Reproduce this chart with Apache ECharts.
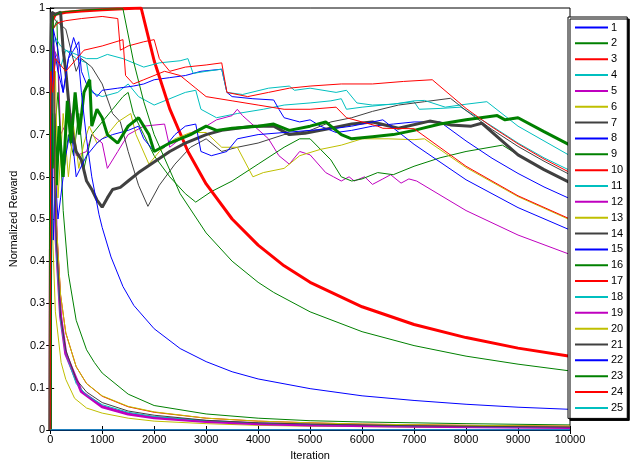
<!DOCTYPE html>
<html>
<head>
<meta charset="utf-8">
<script src="https://cdn.jsdelivr.net/npm/echarts@6/dist/echarts.min.js"></script>
<style>
html, body { margin: 0; padding: 0; background: #fff; }
#main { width: 635px; height: 466px; }
</style>
</head>
<body>
<div id="main"></div>
<script>
var xTicks = [0, 1000, 2000, 3000, 4000, 5000, 6000, 7000, 8000, 9000, 10000];
var yTicks = [0, 0.1, 0.2, 0.3, 0.4, 0.5, 0.6, 0.7, 0.8, 0.9, 1];
var names = ['1','2','3','4','5','6','7','8','9','10','11','12','13','14','15','16','17','18','19','20','21','22','23','24','25'];

// [iteration, normalized reward]
var s1 = [[0,0],[10000,0]];
var s2 = [[0,0],[20,0.6],[60,0.95],[130,0.97],[180,0.72],[250,0.52],[350,0.37],[500,0.26],[700,0.19],[850,0.16],[1000,0.135],[1500,0.085],[2000,0.058],[3000,0.038],[4000,0.028],[5000,0.022],[6000,0.019],[8000,0.015],[10000,0.012]];
var s3 = [[0,0],[5,0.3],[15,0.9],[50,0.98],[80,0.7],[115,0.5],[200,0.32],[300,0.23],[500,0.15],[700,0.11],[1000,0.08],[1500,0.055],[2000,0.042],[3000,0.028],[4000,0.021],[5000,0.017],[6000,0.014],[8000,0.011],[10000,0.009]];
var s4 = [[0,0],[20,0.7],[60,0.85],[120,0.88],[200,0.86],[300,0.9],[500,0.88],[700,0.87],[800,0.8],[1000,0.79],[1300,0.8],[1500,0.82],[1700,0.79],[2000,0.77],[2300,0.785],[2600,0.8],[2800,0.805],[2900,0.76],[3200,0.74],[3600,0.75],[4100,0.76],[4300,0.765],[4500,0.77],[5000,0.775],[5400,0.78],[5600,0.785],[5700,0.76],[6000,0.765],[6400,0.77],[6800,0.775],[7000,0.778],[7100,0.76],[7500,0.762],[7900,0.765],[8500,0.72],[9000,0.68],[9500,0.645],[10000,0.615]];
var s5 = [[0,0],[10,0.7],[50,0.85],[80,0.9],[150,0.88],[200,0.7],[400,0.75],[500,0.65],[700,0.66],[800,0.7],[1000,0.68],[1100,0.62],[1300,0.66],[1500,0.7],[1800,0.72],[2200,0.725],[2300,0.67],[2500,0.69],[2800,0.71],[3000,0.72],[3200,0.735],[3500,0.745],[3600,0.76],[3700,0.745],[4200,0.69],[4400,0.65],[4600,0.63],[4800,0.66],[5000,0.652],[5300,0.61],[5450,0.6],[5600,0.59],[5750,0.6],[5850,0.59],[6050,0.6],[6200,0.582],[6400,0.595],[6550,0.605],[6750,0.585],[6900,0.595],[7050,0.59],[8000,0.52],[9000,0.462],[10000,0.416]];
var s6 = [[0,0],[8,0.95],[20,0.8],[50,0.45],[100,0.28],[210,0.16],[300,0.12],[470,0.075],[700,0.052],[1000,0.04],[1500,0.028],[2000,0.021],[3000,0.015],[4000,0.011],[5000,0.009],[7000,0.007],[10000,0.005]];
var s7 = [[0,0],[10,0.85],[40,0.99],[100,0.97],[200,0.96],[300,0.95],[400,0.9],[500,0.85],[600,0.88],[800,0.86],[1000,0.82],[1200,0.75],[1350,0.73],[1500,0.66],[1700,0.58],[1880,0.53],[2100,0.58],[2400,0.63],[2700,0.67],[3000,0.69],[3300,0.66],[3600,0.67],[4000,0.68],[4500,0.7],[5000,0.71],[5400,0.73],[5800,0.74],[6200,0.755],[6700,0.77],[7200,0.778],[7700,0.786],[8000,0.757],[8500,0.712],[9000,0.672],[9500,0.637],[10000,0.605]];
var s8 = [[0,0],[10,0.7],[30,0.95],[80,0.9],[150,0.85],[250,0.8],[350,0.88],[450,0.9],[550,0.92],[600,0.85],[700,0.82],[900,0.79],[1000,0.805],[1300,0.81],[1600,0.815],[1800,0.82],[2000,0.83],[2300,0.835],[2600,0.84],[2900,0.85],[3300,0.855],[3400,0.8],[3500,0.79],[3900,0.785],[4300,0.782],[4400,0.76],[4500,0.74],[4800,0.73],[5000,0.735],[5200,0.72],[5500,0.705],[5800,0.71],[6200,0.72],[6600,0.725],[7000,0.73],[7500,0.73],[8000,0.685],[8500,0.644],[9000,0.608],[9500,0.576],[10000,0.548]];
var s9 = [[0,0],[10,0.6],[40,0.9],[80,0.7],[150,0.8],[250,0.6],[350,0.7],[450,0.65],[550,0.75],[650,0.62],[800,0.7],[1000,0.73],[1200,0.76],[1400,0.79],[1500,0.8],[1600,0.75],[1800,0.7],[2000,0.65],[2300,0.6],[2600,0.56],[2800,0.54],[3100,0.565],[3500,0.59],[4000,0.63],[4500,0.67],[4800,0.69],[5000,0.69],[5400,0.64],[5600,0.6],[5800,0.59],[6000,0.595],[6300,0.61],[6600,0.605],[7000,0.625],[7500,0.645],[8000,0.66],[8700,0.675],[9000,0.652],[9500,0.618],[10000,0.587]];
var s10 = [[0,0],[10,0.8],[40,0.97],[100,0.985],[300,0.99],[600,0.993],[1000,0.996],[1400,0.998],[1750,1.0],[2000,0.875],[2300,0.761],[2650,0.66],[3000,0.583],[3500,0.5],[4000,0.438],[4500,0.389],[5000,0.35],[6000,0.292],[7000,0.25],[8000,0.219],[9000,0.194],[10000,0.175]];
var s11 = [[0,0],[10,0.8],[40,0.9],[100,0.93],[200,0.91],[300,0.9],[500,0.89],[700,0.88],[900,0.88],[1100,0.89],[1400,0.88],[1800,0.86],[2100,0.87],[2500,0.875],[2650,0.88],[2750,0.845],[3000,0.85],[3300,0.855],[3400,0.8],[3700,0.795],[4200,0.81],[4600,0.815],[4700,0.805],[5000,0.81],[5500,0.8],[5700,0.805],[5900,0.775],[6200,0.77],[6600,0.772],[7000,0.78],[7200,0.781],[7600,0.765],[8000,0.772],[8400,0.778],[9000,0.72],[9500,0.685],[10000,0.65]];
var s12 = [[0,0],[10,0.8],[30,0.95],[60,0.9],[80,0.7],[115,0.45],[200,0.27],[300,0.18],[600,0.091],[1000,0.055],[1500,0.038],[2000,0.029],[3000,0.02],[4000,0.015],[5000,0.012],[7000,0.009],[10000,0.006]];
var s13 = [[0,0],[10,0.6],[30,0.95],[60,0.7],[100,0.85],[150,0.55],[250,0.75],[350,0.6],[450,0.72],[550,0.62],[650,0.68],[750,0.72],[900,0.68],[1100,0.7],[1300,0.73],[1550,0.75],[1650,0.7],[1900,0.63],[2100,0.66],[2400,0.69],[2700,0.705],[3000,0.705],[3300,0.67],[3600,0.67],[3900,0.6],[4100,0.61],[4500,0.62],[4800,0.65],[5200,0.665],[5600,0.675],[6000,0.69],[6500,0.69],[7000,0.688],[7200,0.69],[8000,0.622],[9000,0.553],[10000,0.498]];
var s14 = [[0,0],[10,0.9],[30,0.99],[100,0.985],[200,0.99],[250,0.9],[300,0.85],[400,0.72],[500,0.66],[600,0.64],[700,0.59],[800,0.57],[900,0.545],[1000,0.528],[1100,0.55],[1200,0.57],[1350,0.575],[1500,0.59],[1700,0.61],[2000,0.635],[2300,0.66],[2600,0.68],[2800,0.69],[3000,0.7],[3300,0.71],[3600,0.715],[3900,0.72],[4300,0.72],[4600,0.7],[4900,0.703],[5400,0.715],[5800,0.725],[6200,0.73],[6700,0.715],[7300,0.732],[7700,0.723],[8100,0.72],[8300,0.727],[9000,0.652],[9500,0.617],[10000,0.586]];
var s15 = [[0,0],[30,0.7],[60,0.45],[100,0.6],[150,0.5],[200,0.55],[300,0.65],[400,0.72],[500,0.6],[700,0.65],[900,0.68],[1000,0.69],[1200,0.7],[1500,0.71],[1700,0.72],[1800,0.69],[2000,0.66],[2200,0.67],[2400,0.7],[2600,0.72],[2800,0.725],[2900,0.66],[3100,0.65],[3400,0.66],[3600,0.69],[4000,0.7],[4500,0.705],[5000,0.71],[5500,0.715],[5800,0.72],[6000,0.725],[6400,0.735],[7000,0.677],[8000,0.593],[9000,0.527],[10000,0.474]];
var s16 = [[0,0],[15,0.8],[40,0.62],[70,0.75],[120,0.58],[170,0.72],[250,0.6],[330,0.78],[400,0.68],[480,0.8],[560,0.7],[650,0.8],[760,0.83],[800,0.72],[900,0.76],[1000,0.74],[1100,0.7],[1300,0.68],[1500,0.72],[1700,0.74],[1900,0.7],[2000,0.66],[2300,0.68],[2700,0.7],[3000,0.72],[3200,0.71],[3500,0.715],[4000,0.72],[4300,0.725],[4600,0.71],[5000,0.72],[5300,0.73],[5600,0.7],[5800,0.69],[6200,0.695],[6600,0.7],[7000,0.71],[7500,0.725],[8000,0.735],[8600,0.745],[8750,0.735],[9000,0.74],[9500,0.707],[10000,0.675]];
var s17 = [[0,0],[10,0.9],[50,0.95],[150,0.965],[300,0.97],[600,0.975],[1000,0.98],[1300,0.975],[1350,0.9],[1500,0.91],[1800,0.92],[2000,0.925],[2100,0.88],[2300,0.85],[2600,0.86],[3000,0.865],[3300,0.87],[3400,0.8],[3800,0.79],[4200,0.8],[4600,0.81],[5000,0.815],[5600,0.82],[6200,0.82],[6800,0.826],[7350,0.83],[8000,0.762],[8500,0.718],[9000,0.678],[9500,0.642],[10000,0.61]];
var s18 = [[0,0],[12,0.9],[45,0.97],[80,0.65],[115,0.43],[200,0.26],[300,0.18],[500,0.11],[700,0.083],[1000,0.06],[1500,0.042],[2000,0.032],[3000,0.022],[4000,0.016],[5000,0.013],[7000,0.009],[10000,0.006]];
var s19 = [[0,0],[10,0.7],[40,0.92],[70,0.88],[100,0.5],[200,0.27],[300,0.18],[600,0.09],[1000,0.054],[1500,0.037],[2000,0.029],[3000,0.02],[4000,0.015],[5000,0.012],[7000,0.009],[10000,0.006]];
var s20 = [[0,0],[15,0.85],[50,0.97],[80,0.72],[115,0.5],[200,0.32],[300,0.23],[500,0.15],[700,0.11],[1000,0.081],[1500,0.056],[2000,0.043],[3000,0.028],[4000,0.021],[5000,0.017],[6000,0.014],[8000,0.011],[10000,0.009]];
var s21 = [[0,0],[15,0.95],[60,0.98],[90,0.6],[115,0.46],[200,0.27],[300,0.19],[500,0.12],[700,0.09],[1000,0.065],[1500,0.045],[2000,0.035],[3000,0.023],[4000,0.017],[5000,0.014],[7000,0.01],[10000,0.007]];
var s22 = [[0,0],[20,0.7],[60,0.95],[150,0.9],[250,0.8],[350,0.88],[450,0.93],[530,0.9],[600,0.8],[700,0.69],[800,0.6],[940,0.51],[1000,0.48],[1170,0.41],[1400,0.34],[1610,0.295],[2000,0.24],[2500,0.193],[3000,0.162],[3500,0.138],[4000,0.121],[5000,0.098],[6000,0.081],[7000,0.07],[8000,0.061],[9000,0.054],[10000,0.049]];
var s23 = [[0,0],[20,0.9],[60,0.98],[200,0.99],[600,0.995],[1000,0.997],[1400,0.998],[1600,0.875],[1800,0.778],[2000,0.7],[2500,0.56],[3000,0.467],[3500,0.4],[4000,0.35],[4300,0.326],[5000,0.28],[6000,0.233],[7000,0.2],[8000,0.175],[9000,0.156],[10000,0.14]];
var s24 = [[0,0],[10,0.85],[50,0.8],[100,0.88],[300,0.85],[650,0.9],[1000,0.91],[1400,0.925],[1450,0.84],[1600,0.82],[1800,0.83],[2200,0.85],[2500,0.84],[2800,0.81],[3000,0.79],[3500,0.78],[4000,0.77],[4500,0.76],[5000,0.76],[5500,0.765],[5700,0.74],[6000,0.73],[6300,0.72],[6400,0.715],[7000,0.714],[8000,0.625],[9000,0.555],[10000,0.5]];
var s25 = [[0,0],[10000,0]];

var allSeries = [s1,s2,s3,s4,s5,s6,s7,s8,s9,s10,s11,s12,s13,s14,s15,s16,s17,s18,s19,s20,s21,s22,s23,s24,s25];

var palette = ['#0000ff', '#008000', '#ff0000', '#00bfbf', '#bf00bf', '#bfbf00', '#404040'];
var thick = { '10': 3, '12': 3, '14': 3, '16': 3 };

var series = allSeries.map(function (d, i) {
    return {
        name: names[i],
        type: 'line',
        data: d,
        symbol: 'none',
        lineStyle: { color: palette[i % 7], width: thick[names[i]] || 1 },
        itemStyle: { color: palette[i % 7] },
        emphasis: { disabled: true }
    };
});

var chart = echarts.init(document.getElementById('main'));
var font = 'Liberation Sans';
function plain(v) { return String(v); }

option = {
    animation: false,
    textStyle: { fontFamily: font },
    grid: { left: 49, right: 65, top: 8, bottom: 30, show: true, borderColor: '#000', borderWidth: 1 },
    legend: {
        orient: 'vertical',
        left: 568,
        top: 17,
        padding: [5, 4, 5, 6],
        itemWidth: 33,
        itemHeight: 10,
        itemGap: 4.85,
        backgroundColor: '#fff',
        borderColor: '#000',
        borderWidth: 1,
        shadowColor: '#000',
        shadowOffsetX: 2,
        shadowOffsetY: 2,
        shadowBlur: 0,
        itemStyle: { opacity: 0 },
        textStyle: { fontSize: 11, color: '#000', padding: [0, 0, 0, -2] },
        data: names
    },
    xAxis: [{
        type: 'value', min: 0, max: 10000, interval: 1000,
        name: 'Iteration', nameLocation: 'middle', nameGap: 20,
        nameTextStyle: { fontSize: 11, color: '#000' },
        axisLine: { lineStyle: { color: '#000' } },
        axisTick: { inside: true, length: 4, lineStyle: { color: '#000' } },
        axisLabel: { fontSize: 11, color: '#000', margin: 4, formatter: plain },
        splitLine: { show: false }
    }, {
        type: 'value', position: 'top', min: 0, max: 10000, interval: 1000,
        axisLine: { lineStyle: { color: '#000' } },
        axisTick: { inside: true, length: 4, lineStyle: { color: '#000' } },
        axisLabel: { show: false },
        splitLine: { show: false }
    }],
    yAxis: [{
        type: 'value', min: 0, max: 1, interval: 0.1,
        name: 'Normalized Reward', nameLocation: 'middle', nameGap: 31,
        nameTextStyle: { fontSize: 11, color: '#000' },
        axisLine: { show: true, lineStyle: { color: '#000' } },
        axisTick: { show: true, inside: true, length: 4, lineStyle: { color: '#000' } },
        axisLabel: { fontSize: 11, color: '#000', margin: 5, formatter: plain },
        splitLine: { show: false }
    }, {
        type: 'value', position: 'right', min: 0, max: 1, interval: 0.1,
        axisLine: { show: true, lineStyle: { color: '#000' } },
        axisTick: { show: true, inside: true, length: 4, lineStyle: { color: '#000' } },
        axisLabel: { show: false },
        splitLine: { show: false }
    }],
    series: series
};

if (option && typeof option === "object") {
    chart.setOption(option, true);
}
</script>
</body>
</html>
